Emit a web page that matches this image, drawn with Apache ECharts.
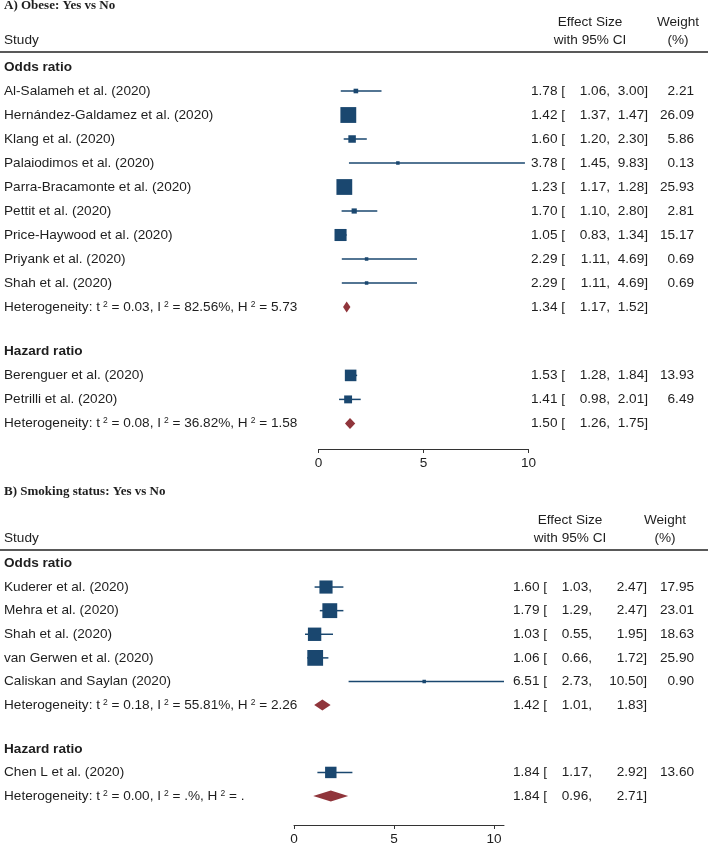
<!DOCTYPE html>
<html>
<head>
<meta charset="utf-8">
<script src="https://cdn.jsdelivr.net/npm/echarts@6/dist/echarts.min.js"></script>
<style>
  html, body { margin: 0; padding: 0; background: #fff; }
  #chart { width: 708px; height: 846px; }
</style>
</head>
<body>
<div id="chart"></div>
<script>
// ---- A) Obese: Yes vs No ----
const obeseOrStudies = ['Al-Salameh et al. (2020)', 'Hernández-Galdamez et al. (2020)', 'Klang et al. (2020)',
  'Palaiodimos et al. (2020)', 'Parra-Bracamonte et al. (2020)', 'Pettit et al. (2020)',
  'Price-Haywood et al. (2020)', 'Priyank et al. (2020)', 'Shah et al. (2020)']
const obeseOrEs = [1.78, 1.42, 1.60, 3.78, 1.23, 1.70, 1.05, 2.29, 2.29]
const obeseOrLo = [1.06, 1.37, 1.20, 1.45, 1.17, 1.10, 0.83, 1.11, 1.11]
const obeseOrHi = [3.00, 1.47, 2.30, 9.83, 1.28, 2.80, 1.34, 4.69, 4.69]
const obeseOrW = [2.21, 26.09, 5.86, 0.13, 25.93, 2.81, 15.17, 0.69, 0.69]
const obeseOrPooled = [1.34, 1.17, 1.52]
const obeseOrHet = ['0.03', '82.56%', '5.73']

const obeseHrStudies = ['Berenguer et al. (2020)', 'Petrilli et al. (2020)']
const obeseHrEs = [1.53, 1.41]
const obeseHrLo = [1.28, 0.98]
const obeseHrHi = [1.84, 2.01]
const obeseHrW = [13.93, 6.49]
const obeseHrPooled = [1.50, 1.26, 1.75]
const obeseHrHet = ['0.08', '36.82%', '1.58']

// ---- B) Smoking status: Yes vs No ----
const smokeOrStudies = ['Kuderer et al. (2020)', 'Mehra et al. (2020)', 'Shah et al. (2020)',
  'van Gerwen et al. (2020)', 'Caliskan and Saylan (2020)']
const smokeOrEs = [1.60, 1.79, 1.03, 1.06, 6.51]
const smokeOrLo = [1.03, 1.29, 0.55, 0.66, 2.73]
const smokeOrHi = [2.47, 2.47, 1.95, 1.72, 10.50]
const smokeOrW = [17.95, 23.01, 18.63, 25.90, 0.90]
const smokeOrPooled = [1.42, 1.01, 1.83]
const smokeOrHet = ['0.18', '55.81%', '2.26']

const smokeHrStudies = ['Chen L et al. (2020)']
const smokeHrEs = [1.84]
const smokeHrLo = [1.17]
const smokeHrHi = [2.92]
const smokeHrW = [13.60]
const smokeHrPooled = [1.84, 0.96, 2.71]
const smokeHrHet = ['0.00', '.%', '.']

const xTicks = [0, 5, 10]

const NAVY = '#1a476f'
const MAROON = '#90353b'
const INK = '#1e1e1e'
const FONT = '"Liberation Sans", Arial, sans-serif'
const FS = 13.6

function buildRows (groups, gap) {
  const rows = []
  let y = 0
  groups.forEach(g => {
    rows.push({ y: y, kind: 'head', label: g.title })
    g.studies.forEach((s, i) => {
      y += 1
      rows.push({ y: y, kind: 'study', label: s, es: g.es[i], lo: g.lo[i], hi: g.hi[i], w: g.w[i] })
    })
    y += 1
    rows.push({ y: y, kind: 'pool', het: g.het, es: g.pooled[0], lo: g.pooled[1], hi: g.pooled[2] })
    y += 1 + gap
  })
  return rows
}

const rowsA = buildRows([
  { title: 'Odds ratio', studies: obeseOrStudies, es: obeseOrEs, lo: obeseOrLo, hi: obeseOrHi, w: obeseOrW, pooled: obeseOrPooled, het: obeseOrHet },
  { title: 'Hazard ratio', studies: obeseHrStudies, es: obeseHrEs, lo: obeseHrLo, hi: obeseHrHi, w: obeseHrW, pooled: obeseHrPooled, het: obeseHrHet }
], 0.85)
const rowsB = buildRows([
  { title: 'Odds ratio', studies: smokeOrStudies, es: smokeOrEs, lo: smokeOrLo, hi: smokeOrHi, w: smokeOrW, pooled: smokeOrPooled, het: smokeOrHet },
  { title: 'Hazard ratio', studies: smokeHrStudies, es: smokeHrEs, lo: smokeHrLo, hi: smokeHrHi, w: smokeHrW, pooled: smokeHrPooled, het: smokeHrHet }
], 0.85)

// pixel layout of each panel (first row centre, row step, axis line)
const panelA = { left: 318.5, width: 210, first: 67, step: 24, axisY: 449, xMax: 10, esLeft: 531, loRight: 610, hiRight: 648, wRight: 694 }
const panelB = { left: 294, width: 210, first: 563.5, step: 23.7, axisY: 826, xMax: 10.5, esLeft: 513, loRight: 592, hiRight: 647, wRight: 694 }

function txt (x, y, text, opts) {
  return {
    type: 'text',
    style: Object.assign({
      x: x, y: y, text: text, fill: INK,
      fontSize: FS, fontFamily: FONT,
      align: 'left', verticalAlign: 'middle'
    }, opts || {})
  }
}

function makeRender (rows, panel) {
  return function (params, api) {
    const r = rows[params.dataIndex]
    const y = api.coord([0, r.y])[1]
    const kids = []
    if (r.kind === 'head') {
      kids.push(txt(4, y, r.label, { fontWeight: 'bold' }))
      return { type: 'group', children: kids }
    }
    const xl = api.coord([r.lo, r.y])[0]
    const xh = api.coord([r.hi, r.y])[0]
    const xe = api.coord([r.es, r.y])[0]
    if (r.kind === 'study') {
      kids.push(txt(4, y, r.label))
      kids.push({ type: 'line', shape: { x1: xl, y1: y, x2: xh, y2: y }, style: { stroke: NAVY, lineWidth: 1.5 } })
      const side = Math.max(3.5, 3.1 * Math.sqrt(r.w))
      kids.push({ type: 'rect', shape: { x: xe - side / 2, y: y - side / 2, width: side, height: side }, style: { fill: NAVY } })
      kids.push(txt(panel.wRight, y, r.w.toFixed(2), { align: 'right' }))
    } else {
      const h = r.het
      kids.push(txt(4, y, 'Heterogeneity: t{s|2} = ' + h[0] + ', I{s|2} = ' + h[1] + ', H{s|2} = ' + h[2], {
        rich: { s: { fontSize: 8.5, fontFamily: FONT, fill: INK, verticalAlign: 'top', lineHeight: 9, padding: [0, 0, 0, 3] } }
      }))
      kids.push({
        type: 'polygon',
        shape: { points: [[xl, y], [xe, y - 5.5], [xh, y], [xe, y + 5.5]] },
        style: { fill: MAROON }
      })
    }
    kids.push(txt(panel.esLeft, y, r.es.toFixed(2) + ' ['))
    kids.push(txt(panel.loRight, y, r.lo.toFixed(2) + ',', { align: 'right' }))
    kids.push(txt(panel.hiRight, y, r.hi.toFixed(2) + ']', { align: 'right' }))
    return { type: 'group', children: kids }
  }
}

function gridOf (p) {
  const top = p.first - p.step
  return { left: p.left, width: p.width, top: top, height: p.axisY - top }
}
function yAxisOf (p, idx) {
  return { type: 'value', gridIndex: idx, inverse: true, min: -1, max: (p.axisY - p.first) / p.step, show: false }
}
function xAxisOf (p, idx) {
  return {
    type: 'value', gridIndex: idx, min: 0, max: p.xMax, interval: 5, position: 'bottom',
    splitLine: { show: false },
    axisLine: { show: true, onZero: false, lineStyle: { color: '#333', width: 1 } },
    axisTick: { show: true, length: 4, lineStyle: { color: '#333' }, customValues: xTicks },
    axisLabel: { margin: 7, color: INK, fontSize: FS, fontFamily: FONT, customValues: xTicks }
  }
}

function headerGraphics (titleY, line1Y, line2Y, ruleY, esC, wC, title) {
  const t = (x, y, text, align, extra) => ({
    type: 'text', x: x, y: y,
    style: Object.assign({ text: text, fill: INK, fontSize: FS, fontFamily: FONT, align: align, verticalAlign: 'middle' }, extra || {})
  })
  return [
    t(4, titleY, title, 'left', { fontFamily: '"Liberation Serif", "Times New Roman", serif', fontWeight: 'bold', fontSize: 13 }),
    t(esC, line1Y, 'Effect Size', 'center'),
    t(esC, line2Y, 'with 95% CI', 'center'),
    t(wC, line1Y, 'Weight', 'center'),
    t(wC, line2Y, '(%)', 'center'),
    t(4, line2Y, 'Study', 'left'),
    { type: 'line', shape: { x1: 0, y1: ruleY, x2: 708, y2: ruleY }, style: { stroke: '#222', lineWidth: 1.6 } }
  ]
}

const chart = echarts.init(document.getElementById('chart'))
chart.setOption({
  animation: false,
  backgroundColor: '#fff',
  grid: [gridOf(panelA), gridOf(panelB)],
  xAxis: [xAxisOf(panelA, 0), xAxisOf(panelB, 1)],
  yAxis: [yAxisOf(panelA, 0), yAxisOf(panelB, 1)],
  graphic: [].concat(
    headerGraphics(6, 22, 40, 52, 590, 678, 'A) Obese: Yes vs No'),
    headerGraphics(492, 520, 538, 550, 570, 665, 'B) Smoking status: Yes vs No')
  ),
  series: [
    {
      type: 'custom', xAxisIndex: 0, yAxisIndex: 0, clip: false,
      data: rowsA.map(r => [r.es || 0, r.y]),
      renderItem: makeRender(rowsA, panelA)
    },
    {
      type: 'custom', xAxisIndex: 1, yAxisIndex: 1, clip: false,
      data: rowsB.map(r => [r.es || 0, r.y]),
      renderItem: makeRender(rowsB, panelB)
    }
  ]
})
</script>
</body>
</html>
